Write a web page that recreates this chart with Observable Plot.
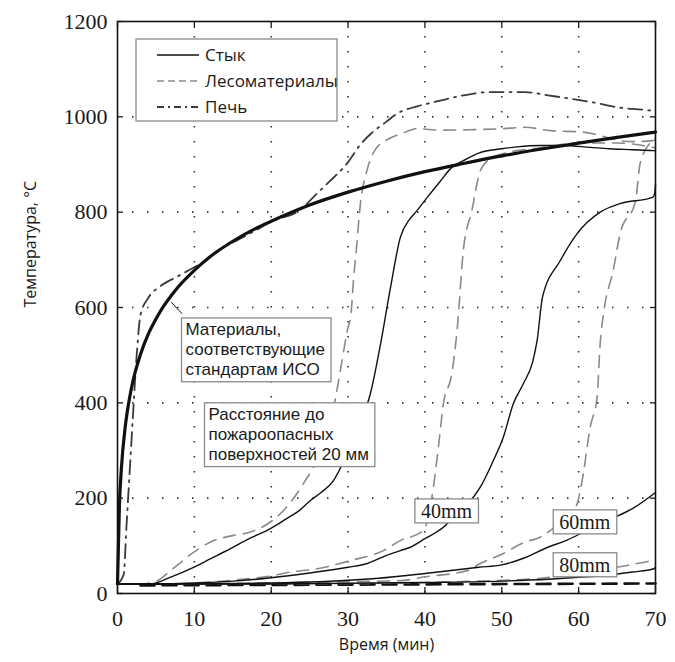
<!DOCTYPE html>
<html><head><meta charset="utf-8">
<script src="https://cdn.jsdelivr.net/npm/d3@7"></script>
<script src="https://cdn.jsdelivr.net/npm/@observablehq/plot@0.6"></script>
<style>body{margin:0;background:#fff}</style>
</head><body><div id="chart"></div>
<script>
// ---- data ----
const xTicks = [0, 10, 20, 30, 40, 50, 60, 70];
const yTicks = [0, 200, 400, 600, 800, 1000, 1200];
const xGrid = [10, 20, 30, 40, 50, 60];
const yGrid = [200, 400, 600, 800, 1000];

// ISO standard curve
const isoT = [0, 0.25, 0.5, 1, 1.5, 2, 3, 4, 5, 6, 7, 8, 10, 12, 15, 18, 20, 25, 30, 35, 40, 45, 50, 55, 60, 65, 70];
const isoV = [20, 185, 261, 349, 404, 445, 502, 544, 576, 603, 625, 645, 678, 706, 739, 766, 781, 815, 842, 865, 885, 902, 918, 932, 945, 957, 968];

// Furnace
const furnT = [0, 0.8, 1.2, 1.6, 2, 2.5, 3, 4, 5.6, 7.8, 10.8, 13.8, 16.4, 20.3, 23.8, 26, 27.7, 30, 31.6, 33, 35, 36.4, 39, 42, 45, 48.5, 53, 56, 59, 62, 65, 68.3, 70];
const furnV = [20, 40, 150, 260, 370, 500, 585, 620, 645, 665, 692, 726, 748, 782, 805, 840, 866, 905, 942, 965, 990, 1007, 1022, 1034, 1045, 1052, 1052, 1045, 1038, 1030, 1020, 1015, 1012];

// Joint (Стык) at 20/40/60/80 mm
const joint20T = [0, 3, 4.3, 7, 9.9, 12, 14.7, 17, 19.9, 22, 23.8, 25.1, 26.5, 28.1, 29.5, 31, 32.9, 34.3, 35.5, 36.8, 38, 38.8, 40.3, 42, 43.5, 45, 47, 50, 52, 55, 58, 61.5, 64, 67, 69.8, 70];
const joint20V = [20, 20, 20, 35, 55, 72, 94, 114, 136, 157, 176, 195, 212, 237, 280, 340, 419, 530, 640, 747, 785, 800, 831, 865, 894, 908, 924, 933, 937, 940, 940, 936, 933, 931, 929, 928];
const joint40T = [0, 5, 10, 15, 20, 25, 30, 32.5, 35, 36.8, 38.1, 40, 42.4, 44, 46.3, 47.2, 48.9, 50.2, 51.5, 52.8, 54, 54.6, 55.3, 57.6, 59.8, 62.8, 65.4, 69.6, 69.9, 70];
const joint40V = [20, 20, 22, 26, 33, 43, 55, 63, 80, 90, 97, 115, 139, 165, 202, 223, 279, 328, 398, 440, 485, 531, 622, 698, 755, 800, 818, 831, 840, 858];
const joint60T = [0, 15, 25, 34, 40, 47, 50, 53, 56, 58.5, 61, 64, 67, 70];
const joint60V = [20, 21, 24, 32, 42, 55, 60, 75, 97, 112, 132, 155, 178, 212];
const joint80T = [0, 20, 40, 50, 56, 60, 64.5, 67, 69.8, 70];
const joint80V = [20, 20, 23, 26, 30, 34, 40, 45, 52, 55];

// Timber (Лесоматериалы) at 20/40/60/80 mm
const timber20T = [0, 3, 5.2, 6.9, 9.7, 12.5, 15.1, 17.3, 19.9, 21.6, 24.2, 26.5, 28, 29, 29.9, 30.4, 30.7, 31.1, 31.6, 32.5, 33.5, 35.3, 37, 39, 42, 45.9, 50, 53, 56.3, 60.6, 63, 65.4, 67, 69.6, 70];
const timber20V = [20, 20, 27, 48, 84, 111, 122, 129, 150, 174, 231, 300, 380, 468, 552, 590, 657, 726, 817, 890, 930, 954, 965, 975, 972, 973, 975, 978, 971, 968, 960, 950, 948, 950, 952];
const timber40T = [0, 5, 10, 15, 20, 22.5, 26, 30.3, 34.6, 36.8, 39.8, 41.1, 41.8, 42.4, 43.5, 44.2, 45, 46.1, 47.2, 48.5, 50, 55, 60, 65, 70];
const timber40V = [20, 20, 22, 28, 37, 45, 52, 69, 90, 111, 132, 223, 314, 398, 461, 555, 720, 803, 887, 912, 922, 935, 945, 945, 935];
const timber60T = [0, 20, 30, 36.8, 40, 45.5, 47.2, 50.2, 53, 55, 56.3, 58.5, 59.8, 60.6, 61.5, 62.4, 62.8, 63.3, 64.5, 65.4, 67.4, 68, 69.6, 70];
const timber60V = [20, 22, 25, 27, 35, 48, 63, 84, 108, 118, 132, 160, 188, 251, 349, 412, 524, 594, 678, 755, 824, 902, 950, 955];
const timber80T = [0, 30, 45, 55, 60, 65, 67.6, 70];
const timber80V = [20, 21, 25, 32, 42, 55, 63, 70];

// bottom (ambient) dashed trace
const baseT = [3, 70];
const baseV = [17, 21];

// legend & annotations
const legendLabels = ["Стык", "Лесоматериалы", "Печь"];
const annoText = ["Материалы,\nсоответствующие\nстандартам ИСО", "Расстояние до\nпожароопасных\nповерхностей 20 мм"];
const annoT = [8.85, 11.84];
const annoV = [572, 394];
const mmLabels = ["40mm", "60mm", "80mm"];
const mmT = [42.8, 60.8, 60.8];
const mmV = [172, 149, 59];
const leaderT1 = [7.0], leaderV1 = [611], leaderT2 = [8.4], leaderV2 = [587];

// ---- build rows ----
function rows(name, t, v) { return t.map((d, i) => ({s: name, t: d, v: v[i]})); }
const jointRows = [...rows("j20", joint20T, joint20V), ...rows("j40", joint40T, joint40V), ...rows("j60", joint60T, joint60V), ...rows("j80", joint80T, joint80V)];
const timberRows = [...rows("w20", timber20T, timber20V), ...rows("w40", timber40T, timber40V), ...rows("w60", timber60T, timber60V), ...rows("w80", timber80T, timber80V)];
const furnRows = rows("f", furnT, furnV);
const isoRows = rows("iso", isoT, isoV);
const baseRows = rows("b", baseT, baseV);
const annoRows = annoText.map((s, i) => ({s, t: annoT[i], v: annoV[i]}));
const mmRows = mmLabels.map((s, i) => ({s, t: mmT[i], v: mmV[i]}));
const leaderRows = leaderT1.map((d, i) => ({t1: d, v1: leaderV1[i], t2: leaderT2[i], v2: leaderV2[i]}));

const styles = {
  joint: {stroke: "#111", strokeWidth: 1.4},
  timber: {stroke: "#8a8a8a", strokeWidth: 1.6, strokeDasharray: "12,8"},
  furnace: {stroke: "#3a3a3a", strokeWidth: 1.8, strokeDasharray: "14,6,2,6"}
};
const serif = "'Liberation Serif', 'DejaVu Serif', serif";
const annoFont = "'Liberation Sans', Arial, sans-serif";

const plot = Plot.plot({
  width: 675, height: 662,
  marginLeft: 117, marginRight: 20, marginTop: 21, marginBottom: 69,
  x: {domain: [0, 70], label: null},
  y: {domain: [0, 1200], label: null},
  style: {fontFamily: "'Open Sans', sans-serif", fontSize: "16px", color: "#1a1a1a", background: "white"},
  marks: [
    Plot.gridY(yGrid, {stroke: "#333", strokeOpacity: 1, strokeWidth: 1.6, strokeDasharray: "1.5,13.5"}),
    Plot.gridX(xGrid, {stroke: "#333", strokeOpacity: 1, strokeWidth: 1.6, strokeDasharray: "1.5,13.5"}),
    Plot.line(baseRows, {x: "t", y: "v", stroke: "#111", strokeWidth: 2.6, strokeDasharray: "14,8"}),
    Plot.line(timberRows, {x: "t", y: "v", z: "s", curve: "monotone-x", ...styles.timber}),
    Plot.line(furnRows, {x: "t", y: "v", curve: "monotone-x", ...styles.furnace}),
    Plot.line(jointRows, {x: "t", y: "v", z: "s", curve: "monotone-x", ...styles.joint}),
    Plot.line(isoRows, {x: "t", y: "v", stroke: "#111", strokeWidth: 3.2, curve: "monotone-x"}),
    Plot.link(leaderRows, {x1: "t1", y1: "v1", x2: "t2", y2: "v2", stroke: "#111", strokeWidth: 1}),
    Plot.text(annoRows, {x: "t", y: "v", text: "s", textAnchor: "start", lineAnchor: "top", lineHeight: 1.17, fontSize: 17, fontFamily: annoFont, fill: "#1a1a1a"}),
    Plot.text(mmRows, {x: "t", y: "v", text: "s", fontSize: 20, fontFamily: serif, fill: "#1a1a1a"}),
    Plot.frame({stroke: "#111", strokeWidth: 1.6}),
    Plot.axisX(xTicks, {anchor: "bottom", tickSize: -6, fill: "none", label: null, strokeWidth: 1.3}),
    Plot.axisX(xTicks, {anchor: "top", tickSize: -6, fill: "none", label: null, strokeWidth: 1.3}),
    Plot.axisY(yTicks, {anchor: "left", tickSize: -6, fill: "none", label: null, strokeWidth: 1.3}),
    Plot.axisY(yTicks, {anchor: "right", tickSize: -6, fill: "none", label: null, strokeWidth: 1.3}),
    Plot.axisX(xTicks, {anchor: "bottom", tickSize: 0, tickPadding: 17, label: null, tickFormat: d => String(d), fill: "#1a1a1a"}),
    Plot.axisY(yTicks, {anchor: "left", tickSize: 0, tickPadding: 10, label: null, tickFormat: d => String(d), fill: "#1a1a1a"}),
    Plot.text(["Время (мин)"], {frameAnchor: "bottom", dy: 56, text: d => d, fontSize: 16, fill: "#1a1a1a"}),
    Plot.text(["Температура, °С"], {frameAnchor: "left", dx: -87, rotate: -90, text: d => d, fontSize: 16, fill: "#1a1a1a"})
  ]
});
document.getElementById("chart").append(plot);
const svgNode = plot.tagName.toLowerCase() === "svg" ? plot : plot.querySelector("svg");
const svg = d3.select(svgNode);

// serif tick labels
svg.selectAll("g").filter(function() {
  const a = this.getAttribute("aria-label") || "";
  return /tick label/.test(a);
}).attr("font-family", serif).attr("font-size", 22)
  .selectAll("text").attr("font-family", serif).attr("font-size", 22);

// boxes behind annotation texts
function boxes(list, pad) {
  svg.selectAll("text").filter(function() { return list.includes(this.textContent); }).each(function() {
    const b = this.getBBox();
    d3.select(this.parentNode).insert("rect", () => this)
      .attr("transform", this.getAttribute("transform"))
      .attr("x", b.x - pad[3]).attr("y", b.y - pad[0])
      .attr("width", b.width + pad[1] + pad[3]).attr("height", b.height + pad[0] + pad[2])
      .attr("fill", "white").attr("stroke", "#8a8a8a").attr("stroke-width", 1.3);
  });
}
boxes(annoText.map(s => s.replace(/\n/g, "")), [2, 6, 3, 4]);
boxes(mmLabels, [1, 6, 1, 6]);

// legend
const L = {x: 136, y: 39, w: 201, h: 82};
const lg = svg.append("g").attr("aria-label", "legend").attr("text-anchor", "start");
lg.append("rect").attr("x", L.x).attr("y", L.y).attr("width", L.w).attr("height", L.h)
  .attr("fill", "white").attr("stroke", "#8a8a8a").attr("stroke-width", 1.3);
const lstyles = [styles.joint, styles.timber, styles.furnace];
legendLabels.forEach((name, i) => {
  const y = L.y + 16 + i * 26;
  const st = lstyles[i];
  lg.append("line").attr("x1", L.x + 21).attr("x2", L.x + 63).attr("y1", y).attr("y2", y)
    .attr("stroke", st.stroke).attr("stroke-width", st.strokeWidth)
    .attr("stroke-dasharray", i === 1 ? "7,4" : i === 2 ? "7,4,2,4" : null);
  lg.append("text").attr("x", L.x + 69).attr("y", y).attr("dy", "0.36em")
    .attr("text-anchor", "start").attr("font-size", 17).attr("fill", "#1a1a1a").text(name);
});
</script>
</body></html>
